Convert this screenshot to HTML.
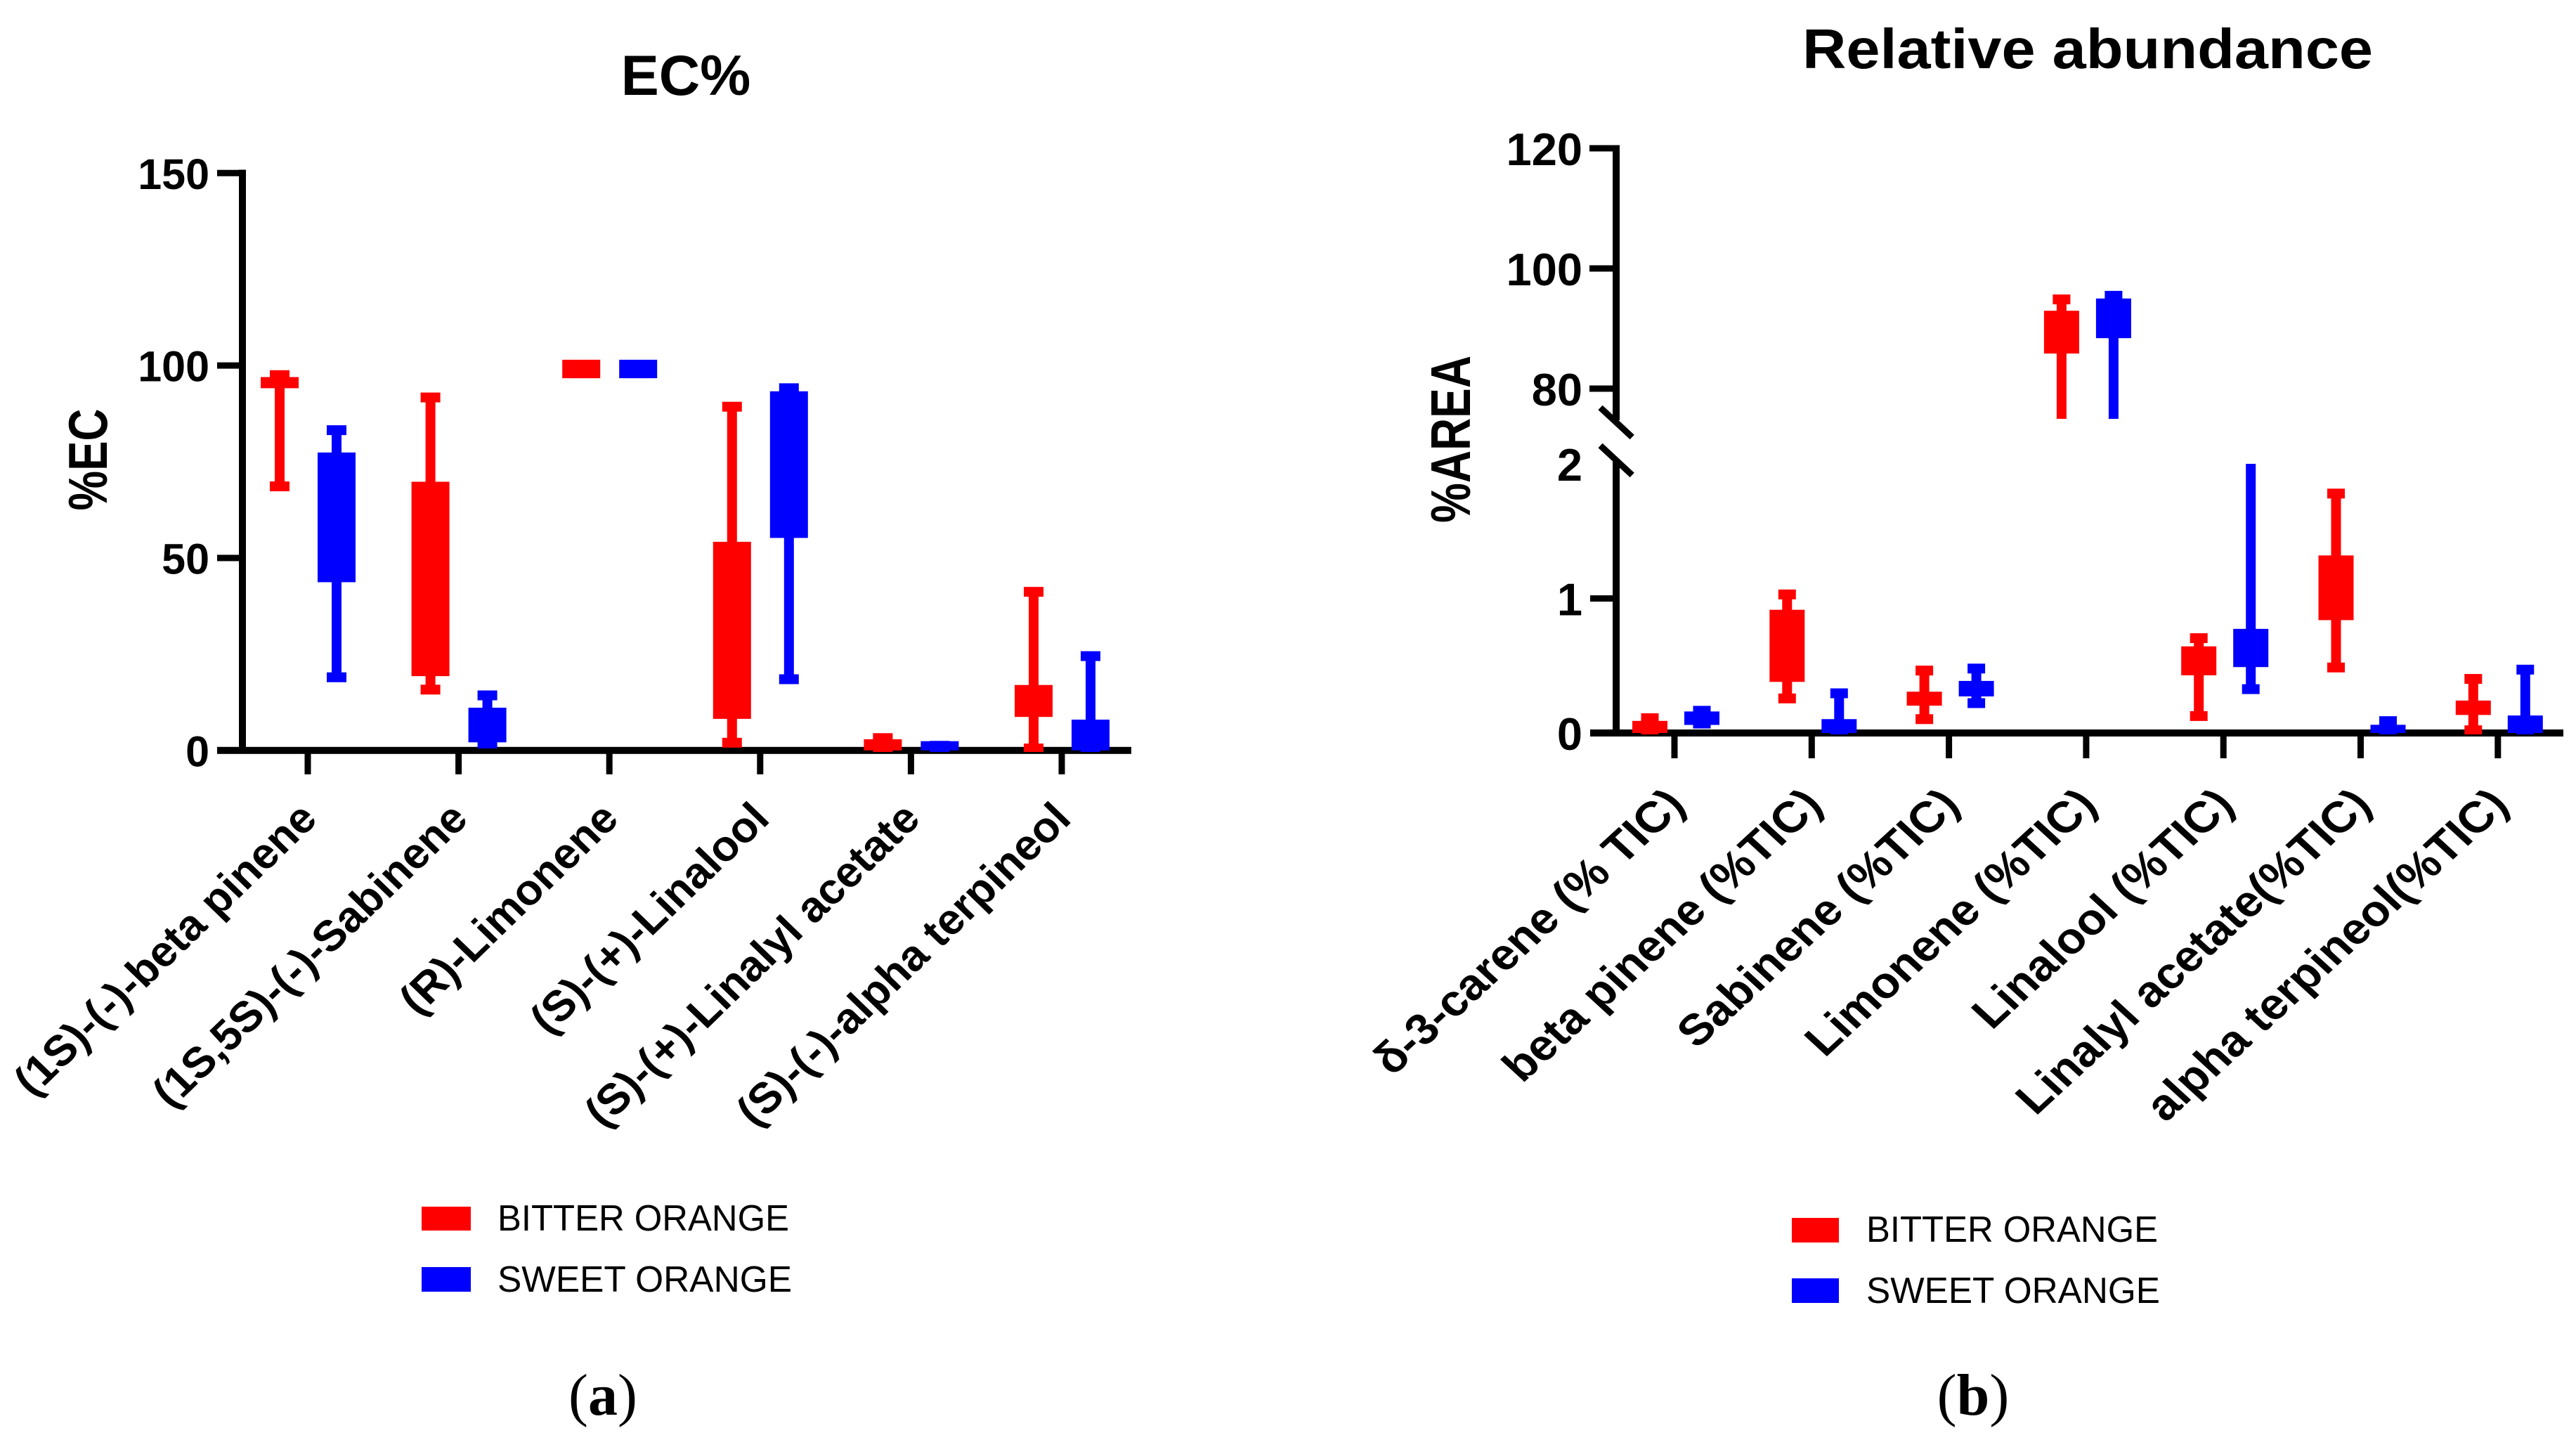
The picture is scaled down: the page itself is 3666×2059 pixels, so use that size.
<!DOCTYPE html>
<html lang="en">
<head>
<meta charset="utf-8">
<title>EC% and Relative abundance</title>
<style>
html,body{margin:0;padding:0;background:#fff;width:3666px;height:2059px;overflow:hidden}
svg{display:block}
text{font-family:"Liberation Sans",sans-serif;fill:#000}
.b{font-weight:bold}
.leg{font-size:52px}
.cap{font-family:"Liberation Serif",serif;font-size:84px}
</style>
</head>
<body>
<svg id="fig" xmlns="http://www.w3.org/2000/svg" width="3666" height="2059" viewBox="0 0 3666 2059">
  <rect x="0" y="0" width="3666" height="2059" fill="#fff"/>
  <defs>
    <clipPath id="clipEC"><rect x="300" y="200" width="1400" height="870"/></clipPath>
    <clipPath id="clipHigh"><rect x="2250" y="200" width="1400" height="396"/></clipPath>
    <clipPath id="clipLow"><rect x="2250" y="660" width="1400" height="385"/></clipPath>
  </defs>

  <g id="panelA">
    <text class="b" x="976" y="135" font-size="81" text-anchor="middle">EC%</text>
    <text class="b" font-size="78" text-anchor="middle" textLength="145" lengthAdjust="spacingAndGlyphs" transform="translate(152 654) rotate(-90)">%EC</text>
    <g id="axesA"></g>
    <g id="marksA" clip-path="url(#clipEC)"></g>
    <rect x="600" y="1717" width="70" height="34" fill="#f00"/>
    <text class="leg" x="708" y="1751" textLength="415" lengthAdjust="spacingAndGlyphs">BITTER ORANGE</text>
    <rect x="600" y="1803" width="70" height="35" fill="#00f"/>
    <text class="leg" x="708" y="1838" textLength="419" lengthAdjust="spacingAndGlyphs">SWEET ORANGE</text>
    <text class="cap" x="858" y="2013" text-anchor="middle">(<tspan font-weight="bold">a</tspan>)</text>
  </g>

  <g id="panelB">
    <text class="b" x="2565" y="97" font-size="80" textLength="812" lengthAdjust="spacingAndGlyphs">Relative abundance</text>
    <text class="b" font-size="80" text-anchor="middle" textLength="238" lengthAdjust="spacingAndGlyphs" transform="translate(2092 625) rotate(-90)">%AREA</text>
    <g id="axesB"></g>
    <g id="marksHigh" clip-path="url(#clipHigh)"></g>
    <g id="marksLow" clip-path="url(#clipLow)"></g>
    <rect x="2550" y="1733" width="67" height="35" fill="#f00"/>
    <text class="leg" x="2656" y="1767" textLength="415" lengthAdjust="spacingAndGlyphs">BITTER ORANGE</text>
    <rect x="2550" y="1819" width="67" height="35" fill="#00f"/>
    <text class="leg" x="2656" y="1854" textLength="418" lengthAdjust="spacingAndGlyphs">SWEET ORANGE</text>
    <text class="cap" x="2808" y="2013" text-anchor="middle">(<tspan font-weight="bold">b</tspan>)</text>
  </g>
</svg>

<script>
// ---------- Panel (a) data ----------
const ecCategories = ["(1S)-(-)-beta pinene","(1S,5S)-(-)-Sabinene","(R)-Limonene","(S)-(+)-Linalool","(S)-(+)-Linalyl acetate","(S)-(-)-alpha terpineol"];
const ecTicks = [0,50,100,150];
const ecBitterMax = [97.5,91.7,100,89.3,3.2,41.2];
const ecBitterQ3  = [97,69.8,101.5,54.2,2.9,17];
const ecBitterQ1  = [94.1,19.3,96.7,8.2,0,8.7];
const ecBitterMin = [68.6,15.8,98,2,0,0.5];
const ecSweetMax  = [83.2,14.3,100,94.1,1.2,24.5];
const ecSweetQ3   = [77.4,11.1,101.5,93.3,2.4,8];
const ecSweetQ1   = [43.7,2.1,96.7,55.2,0,0];
const ecSweetMin  = [19,1.8,98,18.5,0,0];

// ---------- Panel (b) data ----------
const areaCategories = ["δ-3-carene (% TIC)","beta pinene (%TIC)","Sabinene (%TIC)","Limonene (%TIC)","Linalool (%TIC)","Linalyl acetate(%TIC)","alpha terpineol(%TIC)"];
const areaTicksLow = [0,1,2];
const areaTicksHigh = [80,100,120];
const areaBitterMax = [0.11,1.03,0.464,94.85,0.705,1.78,0.402];
const areaBitterQ3  = [0.09,0.916,0.307,92.96,0.644,1.32,0.241];
const areaBitterQ1  = [0,0.38,0.203,85.84,0.429,0.839,0.134];
const areaBitterMin = [0,0.257,0.103,72,0.126,0.487,0.02];
const areaSweetMax  = [0.165,0.295,0.479,95.45,2.2,0.088,0.471];
const areaSweetQ3   = [0.16,0.103,0.387,95,0.774,0.061,0.13];
const areaSweetQ1   = [0.06,0,0.272,88.4,0.49,0,0];
const areaSweetMin  = [0.07,0,0.222,72,0.326,0,0];

const NS = "http://www.w3.org/2000/svg";
function make(tag, attrs, parent) {
  const n = document.createElementNS(NS, tag);
  for (const k in attrs) n.setAttribute(k, attrs[k]);
  parent.appendChild(n);
  return n;
}

// ---------- Axis functions ----------
function yEC(v) { return 1067.8 - v * 5.477; }
function xEC(i) { return 438 + i * 214.6; }
function yAreaLow(v) { return 1043 - v * 191.4; }
function yAreaHigh(v) { return 553 - (v - 80) * 8.55; }
function xArea(i) { return 2383 + i * 195.3; }

function addRect(parent, name, x, y, w, h, fill) {
  const el = make('rect', {x: x, y: y, width: w, height: Math.max(0, h), fill: fill}, parent);
  
  
  return el;
}

function drawBox(parent, name, cx, yFn, boxW, capW, max, q3, q1, min, fill) {
  const g = make('g', {}, parent);
  
  
  addRect(g, name + '-whisker', cx - 7, yFn(max), 14, yFn(min) - yFn(max), fill);
  addRect(g, name + '-cap-high', cx - capW / 2, yFn(max) - 7, capW, 14, fill);
  addRect(g, name + '-cap-low', cx - capW / 2, yFn(min) - 7, capW, 14, fill);
  addRect(g, name + '-box', cx - boxW / 2, yFn(q3), boxW, yFn(q1) - yFn(q3), fill);
}

function addYTick(parent, name, xLeft, xAxis, y, label, xLabel, fontSize) {
  addRect(parent, name + '-mark', xLeft, y - 4.5, xAxis - xLeft, 9, '#000');
  const t = make('text', {x: xLabel, y: y + fontSize * 0.37, 'font-size': fontSize, 'text-anchor': 'end', 'font-weight': 'bold'}, parent);
  
  
  t.textContent = label;
}

function addXLabel(parent, name, px, py, label, fontSize, sx, sy) {
  const t = make('text', {'font-size': fontSize, 'text-anchor': 'end', 'font-weight': 'bold', transform: 'translate(' + px + ' ' + py + ') scale(' + sx + ' ' + sy + ') rotate(-45)'}, parent);
  
  
  t.textContent = label;
}

// ---------- Panel (a) ----------
const axesA = document.getElementById('axesA');
addRect(axesA, 'y-axis-line-ec', 340, 241.5, 10, 831, '#000');
addRect(axesA, 'x-axis-line-ec', 309, yEC(0) - 5, 1301, 10, '#000');
ecTicks.forEach(function (v) {
  addYTick(axesA, 'y-tick-ec-' + v, 309, 342, yEC(v), String(v), 298, 61);
});
ecCategories.forEach(function (c, i) {
  addRect(axesA, 'x-tick-ec-' + i, xEC(i) - 4.5, yEC(0), 9, 34, '#000');
  addXLabel(axesA, 'x-label-ec-' + i, xEC(i) + 16, 1168, c, 60, 1.055, 1.02);
});
const marksA = document.getElementById('marksA');
ecCategories.forEach(function (c, i) {
  drawBox(marksA, 'box-ec-bitter-' + i, xEC(i) - 40, yEC, 54, 28, ecBitterMax[i], ecBitterQ3[i], ecBitterQ1[i], ecBitterMin[i], '#f00');
  drawBox(marksA, 'box-ec-sweet-' + i, xEC(i) + 41, yEC, 54, 28, ecSweetMax[i], ecSweetQ3[i], ecSweetQ1[i], ecSweetMin[i], '#00f');
});

// ---------- Panel (b) ----------
const axesB = document.getElementById('axesB');
addRect(axesB, 'y-axis-upper-line', 2295, yAreaHigh(120) - 4.5, 10, 598 - yAreaHigh(120) + 4.5, '#000');
addRect(axesB, 'y-axis-lower-line', 2295, 657, 10, 391, '#000');
addRect(axesB, 'x-axis-line-area', 2263, yAreaLow(0) - 5, 1385, 10, '#000');

const breakTop = make('line', {x1: 2277.5, y1: 580, x2: 2322.7, y2: 622, stroke: '#000', 'stroke-width': 9}, axesB);


const breakBottom = make('line', {x1: 2277.5, y1: 634, x2: 2322.7, y2: 676, stroke: '#000', 'stroke-width': 9}, axesB);



areaTicksHigh.forEach(function (v) {
  addYTick(axesB, 'y-tick-area-' + v, 2262, 2297, yAreaHigh(v), String(v), 2252, 65);
});
areaTicksLow.forEach(function (v) {
  const y = yAreaLow(v);
  const hasMark = v === 1 || v === 0;
  if (hasMark) addRect(axesB, 'y-tick-area-mark-' + v, 2263, y - 4.5, 34, 9, '#000');
  const t = make('text', {x: 2252, y: y + 24, 'font-size': 65, 'text-anchor': 'end', 'font-weight': 'bold'}, axesB);
  
  
  t.textContent = String(v);
});
areaCategories.forEach(function (c, i) {
  addRect(axesB, 'x-tick-area-' + i, xArea(i) - 4.5, yAreaLow(0), 9, 36, '#000');
  addXLabel(axesB, 'x-label-area-' + i, xArea(i) + 18, 1148, c, 62, 1.09, 1);
});
const marksHigh = document.getElementById('marksHigh');
const marksLow = document.getElementById('marksLow');
areaCategories.forEach(function (c, i) {
  [[marksHigh, yAreaHigh, 'upper'], [marksLow, yAreaLow, 'lower']].forEach(function (seg) {
    drawBox(seg[0], 'box-area-bitter-' + seg[2] + '-' + i, xArea(i) - 35, seg[1], 50, 25, areaBitterMax[i], areaBitterQ3[i], areaBitterQ1[i], areaBitterMin[i], '#f00');
    drawBox(seg[0], 'box-area-sweet-' + seg[2] + '-' + i, xArea(i) + 39, seg[1], 50, 25, areaSweetMax[i], areaSweetQ3[i], areaSweetQ1[i], areaSweetMin[i], '#00f');
  });
});
</script>
</body>
</html>
